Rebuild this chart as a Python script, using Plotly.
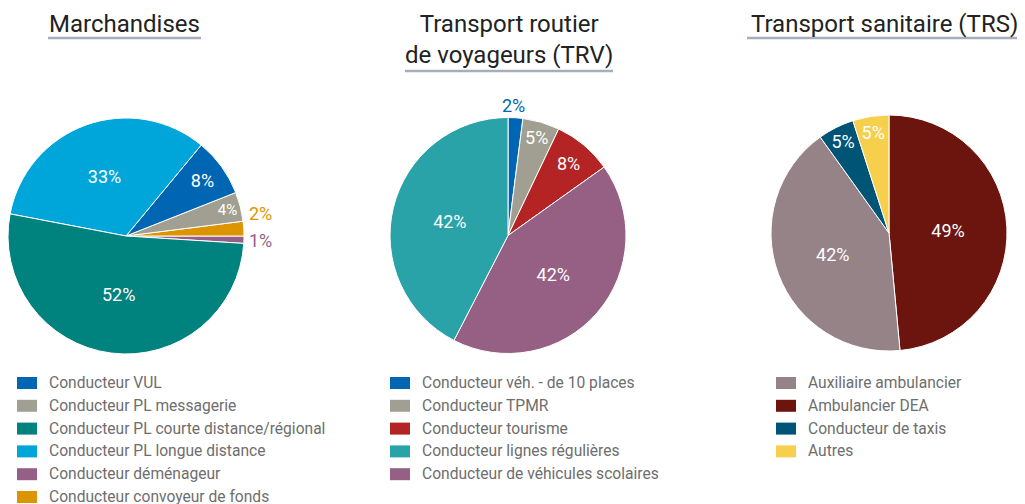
import plotly.graph_objects as go

# The page body has an 8px margin; work in reference pixels and shift by OFF.
OFF = 8
W, H = 1025 - OFF, 504 - OFF

# ---- data ----
titles = ["Marchandises", "Transport routier<br>de voyageurs (TRV)", "Transport sanitaire (TRS)"]

m_labels = ["Conducteur déménageur", "Conducteur convoyeur de fonds", "Conducteur PL messagerie",
            "Conducteur VUL", "Conducteur PL longue distance", "Conducteur PL courte distance/régional"]
m_values = [1, 2, 4, 8, 33, 52]
m_colors = ["#965f86", "#dc9400", "#a09f92", "#0066b3", "#00a6d9", "#00827f"]
m_legend = ["Conducteur VUL", "Conducteur PL messagerie", "Conducteur PL courte distance/régional",
            "Conducteur PL longue distance", "Conducteur déménageur", "Conducteur convoyeur de fonds"]

t_labels = ["Conducteur véh. - de 10 places", "Conducteur TPMR", "Conducteur tourisme",
            "Conducteur de véhicules scolaires", "Conducteur lignes régulières"]
t_values = [2, 5, 8, 42, 42]
t_colors = ["#0066b3", "#a09f92", "#b52424", "#966085", "#2aa3a8"]
t_legend = ["Conducteur véh. - de 10 places", "Conducteur TPMR", "Conducteur tourisme",
            "Conducteur lignes régulières", "Conducteur de véhicules scolaires"]

s_labels = ["Ambulancier DEA", "Auxiliaire ambulancier", "Conducteur de taxis", "Autres"]
s_values = [49, 42, 5, 5]
s_colors = ["#6b150e", "#968388", "#005476", "#f6cf4d"]
s_legend = ["Auxiliaire ambulancier", "Ambulancier DEA", "Conducteur de taxis", "Autres"]

FONT = "Roboto"

fig = go.Figure()
shapes = []
annotations = []

def X(px):
    return min(max((px - OFF) / W, 0.0), 1.0)

def Y(py):
    return min(max(1 - (py - OFF) / H, 0.0), 1.0)

def add_pie(labels, values, colors, box, rotation, direction, outside):
    x0, x1, y0, y1 = box
    pos = ["none" if i in outside else "inside" for i in range(len(values))]
    fig.add_trace(go.Pie(
        labels=labels, values=values, sort=False, direction=direction, rotation=rotation,
        marker=dict(colors=colors, line=dict(color="white", width=1)),
        text=[f"{v}%" for v in values], textinfo="text", textposition=pos,
        textfont=dict(family=FONT, size=18, color="white"),
        insidetextorientation="horizontal",
        domain=dict(x=[X(x0), X(x1)], y=[Y(y1), Y(y0)]), showlegend=False, hoverinfo="label+text",
    ))
    # outside labels (positions are label placement, text/colour from the data)
    for i, (lx, ly) in outside.items():
        annotations.append(dict(text=f"{values[i]}%", x=X(lx), y=Y(ly), xref="paper", yref="paper",
                                showarrow=False, xanchor="center", yanchor="middle",
                                font=dict(family=FONT, size=18, color=colors[i])))

add_pie(m_labels, m_values, m_colors, (8, 244, 117, 355), 90, "counterclockwise",
        {0: (260, 240), 1: (260, 213)})
add_pie(t_labels, t_values, t_colors, (390, 626, 117, 354), 0, "clockwise", {0: (513, 105)})
add_pie(s_labels, s_values, s_colors, (771, 1007, 115, 351), 0, "clockwise", {})

# titles with underline
title_pos = [(124, 24, 48, 201, 38), (509, 39, 405, 613, 71), (884, 24, 747, 1021, 38)]
for t, (cx, cy, ux0, ux1, uy) in zip(titles, title_pos):
    annotations.append(dict(text=t, x=X(cx), y=Y(cy), xref="paper", yref="paper",
                            showarrow=False, font=dict(family=FONT, size=24, color="#222222"),
                            xanchor="center", yanchor="middle"))
    shapes.append(dict(type="line", xref="paper", yref="paper", x0=X(ux0), x1=X(ux1),
                       y0=Y(uy), y1=Y(uy), line=dict(color="#a7aebb", width=2.5)))

# legends
legends = [(m_legend, m_labels, m_colors, 17), (t_legend, t_labels, t_colors, 390),
           (s_legend, s_labels, s_colors, 776)]
for items, labs, cols, lx in legends:
    for i, name in enumerate(items):
        cy = 383 + i * 22.8
        col = cols[labs.index(name)]
        shapes.append(dict(type="rect", xref="paper", yref="paper", x0=X(lx), x1=X(lx + 20),
                           y0=Y(cy + 6), y1=Y(cy - 6), fillcolor=col, line=dict(width=0)))
        annotations.append(dict(text=name, x=X(lx + 30), y=Y(cy), xref="paper", yref="paper",
                                showarrow=False, xanchor="left", yanchor="middle",
                                font=dict(family=FONT, size=15.6, color="#6e6e6e")))

fig.update_layout(width=W, height=H, margin=dict(l=0, r=0, t=0, b=0),
                  paper_bgcolor="white", plot_bgcolor="white",
                  shapes=shapes, annotations=annotations, showlegend=False)

fig.write_html("out.html")
